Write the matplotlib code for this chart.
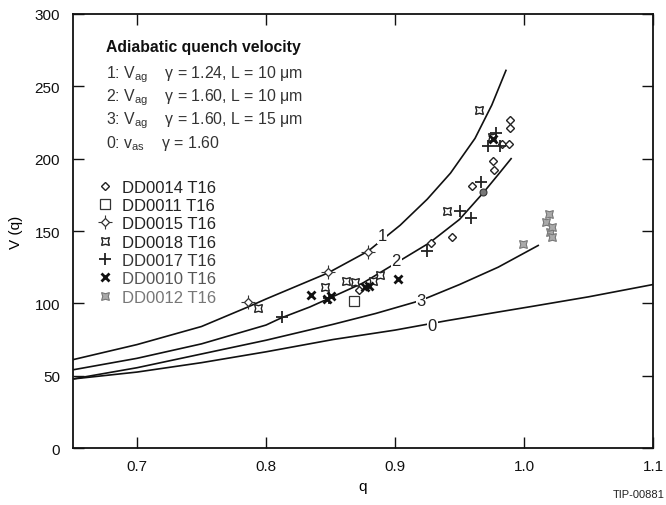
import numpy as np
import matplotlib
matplotlib.use('Agg')
import matplotlib.pyplot as plt
from matplotlib.legend_handler import HandlerTuple

plt.rcParams['font.family'] = ['Liberation Sans', 'DejaVu Sans']
plt.rcParams['mathtext.fontset'] = 'custom'
plt.rcParams['mathtext.rm'] = 'Liberation Sans'
plt.rcParams['mathtext.it'] = 'Liberation Sans:italic'

# curve 1: V_ag, gamma = 1.24, L = 10 um
c1_q = [0.65, 0.70, 0.75, 0.786, 0.80, 0.848, 0.879, 0.904, 0.925, 0.943, 0.962, 0.975, 0.986]
c1_v = [61, 71.5, 84, 97.5, 103, 121, 136, 154, 172, 190, 214, 237, 261]
# curve 2: V_ag, gamma = 1.60, L = 10 um
c2_q = [0.65, 0.70, 0.75, 0.80, 0.812, 0.834, 0.849, 0.875, 0.901, 0.927, 0.95, 0.968, 0.98, 0.99]
c2_v = [54, 62, 72, 85, 90, 97.5, 103.5, 114, 128, 142, 158, 176, 189, 200]
# curve 3: V_ag, gamma = 1.60, L = 15 um
c3_q = [0.65, 0.70, 0.75, 0.80, 0.852, 0.885, 0.92, 0.95, 0.98, 1.011]
c3_v = [47.7, 55.5, 65, 74.5, 85.5, 93, 102, 113, 125, 140]
# curve 0: v_as, gamma = 1.60
c0_q = [0.65, 0.70, 0.75, 0.80, 0.852, 0.90, 0.94, 0.98, 1.007, 1.05, 1.1]
c0_v = [47.7, 52.5, 59, 66.5, 75, 81.5, 88, 94, 98, 104.5, 113]

curve_tags = ['1', '2', '3', '0']
tag_q = [0.890, 0.901, 0.920, 0.929]
tag_v = [147, 129.5, 102, 85]

# measured points
dd14_q = [0.872, 0.928, 0.944, 0.960, 0.976, 0.977, 0.983, 0.988, 0.989, 0.989]
dd14_v = [109, 141.8, 146, 181, 198.5, 192, 210, 210, 221, 227]
dd11_q = [0.868]
dd11_v = [101.9]
dd15_q = [0.786, 0.848, 0.879]
dd15_v = [100.7, 121.5, 135.3]
dd18_q = [0.794, 0.846, 0.862, 0.869, 0.883, 0.888, 0.9405, 0.9654, 0.975]
dd18_v = [96.6, 111.6, 115.7, 114.6, 115.7, 119.6, 164.1, 233.3, 215]
dd17_q = [0.812, 0.849, 0.925, 0.950, 0.959, 0.967, 0.972, 0.978, 0.981]
dd17_v = [90.4, 104, 136.4, 164, 159, 184, 209, 218, 209]
dd10_q = [0.835, 0.847, 0.850, 0.877, 0.880, 0.9025, 0.976]
dd10_v = [106, 103, 105, 111, 112, 116.9, 213.7]
dd12_q = [0.999, 1.017, 1.019, 1.020, 1.022, 1.022]
dd12_v = [141, 156, 162, 149, 153, 146]
dot_q = [0.968]
dot_v = [177]

fig = plt.figure(figsize=(6.66, 5.06), dpi=100)
ax = fig.add_axes([0.1089, 0.1126, 0.8716, 0.8578])

for q, v in [(c1_q, c1_v), (c2_q, c2_v), (c3_q, c3_v), (c0_q, c0_v)]:
    ax.plot(q, v, c='#111111', lw=1.2, zorder=2)

for t, q, v in zip(curve_tags, tag_q, tag_v):
    ax.text(q, v, t, fontsize=12, color='#222222', ha='center', va='center', zorder=3,
            bbox=dict(facecolor='white', edgecolor='none', pad=0.5))

h14, = ax.plot(dd14_q, dd14_v, ls='none', marker='D', ms=4.5, mfc='white', mec='#222222', mew=1.0, zorder=4)
h11, = ax.plot(dd11_q, dd11_v, ls='none', marker='s', ms=7, mfc='white', mec='#333333', mew=0.9, zorder=4)
h15a, = ax.plot(dd15_q, dd15_v, ls='none', marker='+', ms=10, mec='#333333', mew=0.8, zorder=4)
h15b, = ax.plot(dd15_q, dd15_v, ls='none', marker='D', ms=4.5, mfc='white', mec='#333333', mew=0.9, zorder=5)
h18, = ax.plot(dd18_q, dd18_v, ls='none', marker=(4, 1, 45), ms=8, mfc='white', mec='#222222', mew=1.0, zorder=4)
h17, = ax.plot(dd17_q, dd17_v, ls='none', marker='+', ms=8, mec='#222222', mew=1.3, zorder=4)
h10, = ax.plot(dd10_q, dd10_v, ls='none', marker='x', ms=6, mec='#111111', mew=2.0, zorder=4)
h12, = ax.plot(dd12_q, dd12_v, ls='none', marker=(4, 1, 45), ms=8, mfc='#aaaaaa', mec='#777777', mew=0.8, zorder=4)
ax.plot(dot_q, dot_v, ls='none', marker='o', ms=5, mfc='#777777', mec='#333333', mew=0.8, zorder=4)

handles = [h14, h11, (h15a, h15b), h18, h17, h10, h12]
labels = ['DD0014 T16', 'DD0011 T16', 'DD0015 T16', 'DD0018 T16', 'DD0017 T16', 'DD0010 T16', 'DD0012 T16']
leg = ax.legend(handles, labels, loc='upper left', bbox_to_anchor=(0.030, 0.634), frameon=False,
                fontsize=12, handlelength=1.0, handletextpad=0.5, labelspacing=0.2,
                borderaxespad=0.0,
                handler_map={tuple: HandlerTuple(ndivide=1, pad=0)})
for txt, col in zip(leg.get_texts(), ['#222', '#222', '#222', '#222', '#333', '#555', '#777']):
    txt.set_color(col)

ax.text(0.058, 0.924, 'Adiabatic quench velocity', transform=ax.transAxes, fontsize=11.3,
        fontweight='bold', color='#111111', va='center')
block = ['1: V$_{\\mathrm{ag}}$    \u03b3 = 1.24, L = 10 \u03bcm',
         '2: V$_{\\mathrm{ag}}$    \u03b3 = 1.60, L = 10 \u03bcm',
         '3: V$_{\\mathrm{ag}}$    \u03b3 = 1.60, L = 15 \u03bcm',
         '0: v$_{\\mathrm{as}}$    \u03b3 = 1.60']
for i, s in enumerate(block):
    ax.text(0.058, 0.862 - i * 0.053, s, transform=ax.transAxes, fontsize=11.4,
            color='#333333', va='center')

ax.set_xlim(0.65, 1.1)
ax.set_ylim(0, 300)
ax.set_xticks([0.7, 0.8, 0.9, 1.0, 1.1])
ax.set_xticklabels(['0.7', '0.8', '0.9', '1.0', '1.1'])
ax.set_yticks([0, 50, 100, 150, 200, 250, 300])
ax.tick_params(direction='in', top=True, right=True, length=8, width=1.0,
               labelsize=11, colors='#111111')
ax.tick_params(axis='x', pad=8)
ax.tick_params(axis='y', pad=9)
for sp in ax.spines.values():
    sp.set_linewidth(1.3)
    sp.set_color('#111111')

ax.set_xlabel('q', fontsize=11, labelpad=4)
ax.set_ylabel('V (q)', fontsize=11, labelpad=8)
fig.text(0.998, 0.012, 'TIP-00881', fontsize=8, ha='right', va='bottom', color='#222222')

fig.savefig('out.png', dpi=100)
